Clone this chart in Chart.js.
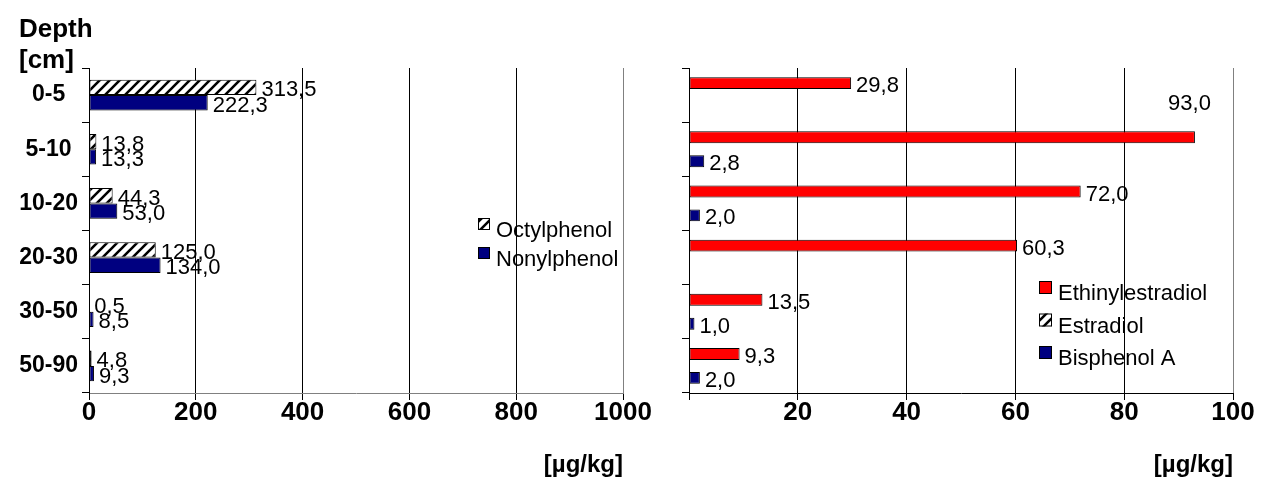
<!DOCTYPE html>
<html>
<head>
<meta charset="utf-8">
<script src="https://cdn.jsdelivr.net/npm/chart.js@4.4.0/dist/chart.umd.min.js"></script>
<style>
  body { margin: 0; background: #fff; width: 1261px; height: 481px; overflow: hidden; position: relative; }
  canvas { position: absolute; top: 0; }
  #leftChart { left: 0; }
  #rightChart { left: 660px; }
</style>
</head>
<body>
<canvas id="leftChart" width="660" height="481"></canvas>
<canvas id="rightChart" width="601" height="481"></canvas>
<script>
// depth layers, shared by both panels
const depths = ['0-5', '5-10', '10-20', '20-30', '30-50', '50-90'];

// left panel [µg/kg]
const octylphenol = [313.5, 13.8, 44.3, 125.0, 0.5, 4.8];
const nonylphenol = [222.3, 13.3, 53.0, 134.0, 8.5, 9.3];
const leftTicks = [0, 200, 400, 600, 800, 1000];

// right panel [µg/kg]
const ethinylestradiol = [29.8, 93.0, 72.0, 60.3, 13.5, 9.3];
const estradiol = [null, null, null, null, null, null];
const bisphenolA = [null, 2.8, 2.0, null, 1.0, 2.0];
const rightTicks = [0, 20, 40, 60, 80, 100];

const FONT = '"Liberation Sans", Arial, sans-serif';
const NAVY = '#000080';
const RED = '#ff0000';

Chart.defaults.font.family = FONT;
Chart.defaults.color = '#000';

// diagonal hatch like the excel "wide upward diagonal" fill
function makeHatch(ctx) {
    const tile = document.createElement('canvas');
    tile.width = 10;
    tile.height = 10;
    const g = tile.getContext('2d');
    g.fillStyle = '#fff';
    g.fillRect(0, 0, 10, 10);
    g.strokeStyle = '#000';
    g.lineWidth = 2.6;
    g.beginPath();
    g.moveTo(-5, 5); g.lineTo(5, -5);
    g.moveTo(0, 10); g.lineTo(10, 0);
    g.moveTo(5, 15); g.lineTo(15, 5);
    g.stroke();
    return ctx.createPattern(tile, 'repeat');
}

const fmt = v => v.toFixed(1).replace('.', ',');

// value labels at the end of each bar
const barLabels = {
    id: 'barLabels',
    afterDatasetsDraw(chart) {
        const { ctx, chartArea } = chart;
        ctx.save();
        ctx.font = '22px ' + FONT;
        ctx.fillStyle = '#000';
        ctx.textBaseline = 'middle';
        chart.data.datasets.forEach((ds, i) => {
            const meta = chart.getDatasetMeta(i);
            meta.data.forEach((bar, j) => {
                const v = ds.data[j];
                if (v === null || v === undefined) return;
                const text = fmt(v);
                const w = ctx.measureText(text).width;
                if (bar.x + 5 + w > chartArea.right) {
                    // no room on the right: put it above the bar
                    ctx.textAlign = 'right';
                    ctx.fillText(text, bar.x + 16, bar.y - 33);
                } else {
                    ctx.textAlign = 'left';
                    ctx.fillText(text, bar.x + 5, bar.y + 3);
                }
            });
        });
        ctx.restore();
    }
};

// legend drawn inside the plot area
const innerLegend = {
    id: 'innerLegend',
    afterDraw(chart, args, opts) {
        const ctx = chart.ctx;
        ctx.save();
        ctx.font = '22px ' + FONT;
        ctx.textBaseline = 'middle';
        ctx.textAlign = 'left';
        chart.data.datasets.forEach((ds, i) => {
            const y = opts.y + i * opts.gap;
            ctx.fillStyle = ds.backgroundColor;
            ctx.fillRect(opts.x, y - 11, opts.size, opts.size);
            ctx.strokeStyle = '#000';
            ctx.lineWidth = 1;
            ctx.strokeRect(opts.x + 0.5, y - 10.5, opts.size - 1, opts.size - 1);
            ctx.fillStyle = '#000';
            ctx.fillText(ds.label, opts.x + opts.size + 6, y + 2);
        });
        ctx.restore();
    }
};

// "Depth [cm]" heading above the category labels
const depthTitle = {
    id: 'depthTitle',
    afterDraw(chart) {
        const ctx = chart.ctx;
        ctx.save();
        ctx.font = 'bold 26px ' + FONT;
        ctx.fillStyle = '#000';
        ctx.textBaseline = 'middle';
        ctx.textAlign = 'left';
        ctx.fillText('Depth', 19, 30);
        ctx.fillText('[cm]', 19, 61);
        ctx.restore();
    }
};

function xScale(ticks, axisColor, showZero) {
    const max = ticks[ticks.length - 1];
    return {
        type: 'linear',
        min: ticks[0],
        max: max,
        ticks: {
            stepSize: ticks[1] - ticks[0],
            font: { size: 26, weight: 'bold' },
            padding: -3,
            maxRotation: 0,
            autoSkip: false,
            callback: v => (v === 0 && !showZero) ? '' : v
        },
        grid: {
            color: c => (c.tick && c.tick.value === max) ? '#808080' : '#000',
            tickColor: '#000',
            tickLength: 7,
            lineWidth: 1
        },
        border: { color: axisColor },
        title: {
            display: true,
            text: '[µg/kg]',
            align: 'end',
            font: { size: 24, weight: 'bold' },
            padding: { top: 0, bottom: 1 }
        },
        afterFit: s => { s.height = 88; }
    };
}

function yScale(width, showLabels) {
    return {
        type: 'category',
        ticks: {
            display: showLabels,
            font: { size: 23, weight: 'bold' },
            crossAlign: 'center',
            padding: 4
        },
        grid: { drawOnChartArea: false, tickLength: 7, color: '#000', offset: true },
        border: { color: '#000' },
        afterFit: s => { s.width = width; }
    };
}

const leftCtx = document.getElementById('leftChart').getContext('2d');
const rightCtx = document.getElementById('rightChart').getContext('2d');

new Chart(leftCtx, {
    type: 'bar',
    data: {
        labels: depths,
        datasets: [
            { label: 'Octylphenol', data: octylphenol, backgroundColor: makeHatch(leftCtx),
              borderColor: '#000', borderWidth: 1, borderSkipped: false },
            { label: 'Nonylphenol', data: nonylphenol, backgroundColor: NAVY,
              borderColor: '#000', borderWidth: 1, borderSkipped: false }
        ]
    },
    options: {
        indexAxis: 'y',
        responsive: false,
        animation: false,
        categoryPercentage: 0.565,
        barPercentage: 1,
        layout: { padding: { top: 68, right: 37, left: 0, bottom: 0 } },
        scales: { x: xScale(leftTicks, '#808080', true), y: yScale(89, true) },
        plugins: {
            legend: { display: false },
            tooltip: { enabled: false },
            innerLegend: { x: 478, y: 229, gap: 29, size: 12 }
        }
    },
    plugins: [barLabels, innerLegend, depthTitle]
});

new Chart(rightCtx, {
    type: 'bar',
    data: {
        labels: depths,
        datasets: [
            { label: 'Ethinylestradiol', data: ethinylestradiol, backgroundColor: RED,
              borderColor: '#000', borderWidth: 1, borderSkipped: false },
            { label: 'Estradiol', data: estradiol, backgroundColor: makeHatch(rightCtx),
              borderColor: '#000', borderWidth: 1, borderSkipped: false },
            { label: 'Bisphenol A', data: bisphenolA, backgroundColor: NAVY,
              borderColor: '#000', borderWidth: 1, borderSkipped: false }
        ]
    },
    options: {
        indexAxis: 'y',
        responsive: false,
        animation: false,
        categoryPercentage: 0.663,
        barPercentage: 1,
        layout: { padding: { top: 68, right: 28, left: 0, bottom: 0 } },
        scales: { x: xScale(rightTicks, '#000', false), y: yScale(29, false) },
        plugins: {
            legend: { display: false },
            tooltip: { enabled: false },
            innerLegend: { x: 379, y: 292, gap: 32.5, size: 13 }
        }
    },
    plugins: [barLabels, innerLegend]
});
</script>
</body>
</html>
